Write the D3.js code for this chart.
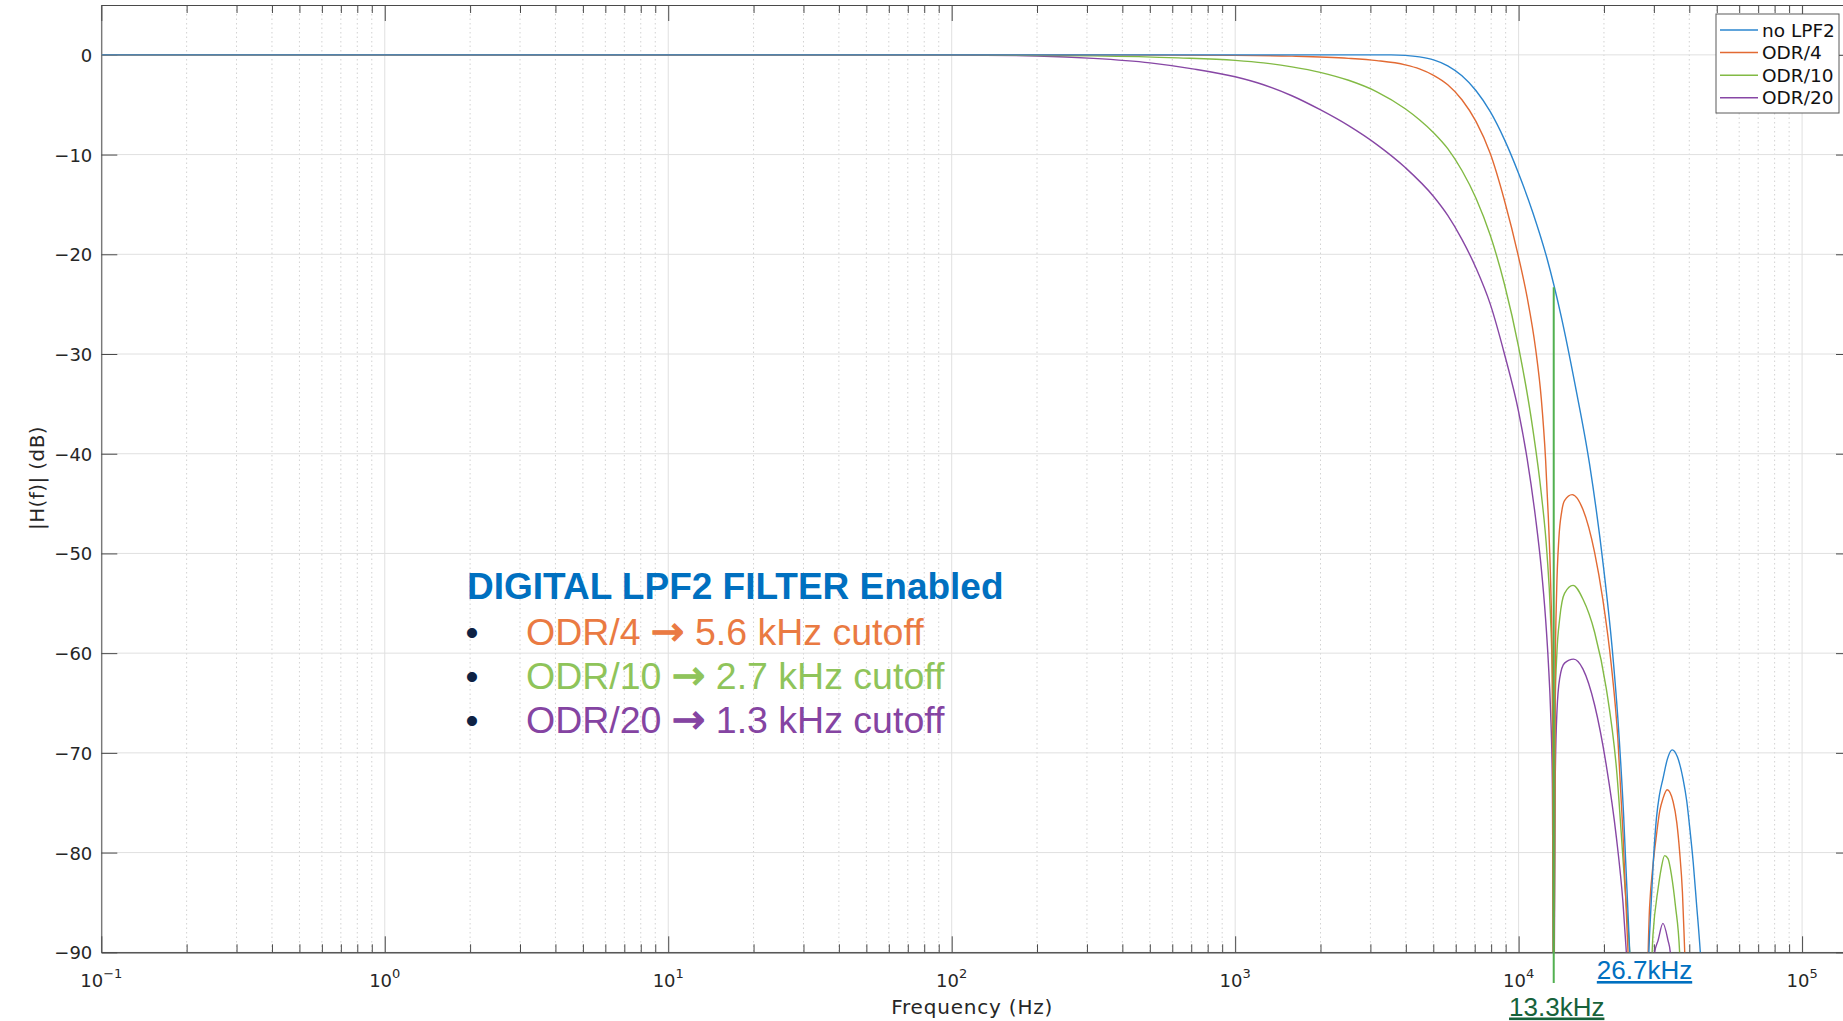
<!DOCTYPE html>
<html>
<head>
<meta charset="utf-8">
<script src="https://cdn.jsdelivr.net/npm/d3@7"></script>
<style>
  html, body { margin: 0; padding: 0; background: #fff; }
  #chart { width: 1843px; height: 1021px; overflow: hidden; }
</style>
</head>
<body>
<div id="chart"></div>
<script>
// values (frequency in Hz, magnitude in dB)
const seriesNames = ["no LPF2", "ODR/4", "ODR/10", "ODR/20"];
const seriesColors = ["#2B86CF", "#E26A33", "#82BA44", "#8747A5"];

const noLpfFreq = [0.1, 100, 1000, 3548, 3981, 4467, 5012, 5623, 6310, 7079,
  7943, 8913, 10000, 11220, 12589, 14125, 15849, 17783, 19953, 21380,
  22387, 23442, 24660, 25700, 27860, 28970, 29850, 30620, 31400, 32290,
  33500, 34830, 36310, 38020, 39170, 40180, 41300, 42360, 43750, 45710];
const noLpfDb = [0, 0, 0, 0, -0.05, -0.2, -0.5, -1.1, -2.1, -3.6,
  -5.7, -8.5, -11.9, -15.8, -20.4, -26.2, -33.2, -41.0, -51.5, -59.5,
  -66.5, -76, -90, -100, -100, -88.2, -81, -76.6, -74.2, -72.6,
  -70.6, -69.7, -70.4, -72.6, -74.8, -77.6, -81, -84.9, -90, -100];

const odr4Freq = [0.1, 316, 1000, 1585, 2512, 3162, 3981, 4467, 5012, 5623,
  6310, 7079, 7943, 8913, 10000, 10715, 11482, 12023, 12445, 12735,
  12972, 13152, 13305, 13459, 13614, 13868, 14191, 14521, 15453, 16866,
  18535, 19815, 21232, 22387, 23335, 24322, 25700, 27860, 28970, 29850,
  30620, 31480, 32290, 33420, 35080, 36140, 36980, 37840, 38550, 39810];
const odr4Db = [0, 0, -0.05, -0.13, -0.35, -0.58, -1.0, -1.4, -2.05, -3.0,
  -4.5, -6.7, -9.9, -14.6, -20.3, -24.3, -29.5, -34.5, -40.5, -46.5,
  -53, -62, -100, -62, -54, -48.5, -45.8, -44.7, -44.1, -45.6,
  -49.9, -54.6, -61.2, -68.5, -78, -90, -100, -100, -85.5, -81,
  -78.3, -75.8, -74.6, -73.7, -74.9, -77, -79.9, -84, -90, -100];

const odr10Freq = [0.1, 100, 316, 631, 1000, 1259, 1585, 1995, 2512, 3162,
  3981, 4467, 5012, 5623, 6310, 7079, 7943, 8913, 10000, 11220,
  12023, 12589, 12942, 13152, 13305, 13459, 13646, 13964, 14521, 15560,
  16870, 18540, 20370, 22130, 23660, 24660, 25700, 28510, 29790, 31050,
  31840, 32730, 33650, 34590, 35730, 36980, 38020];
const odr10Db = [0, 0, -0.1, -0.3, -0.55, -0.8, -1.2, -1.75, -2.55, -3.7,
  -5.4, -6.5, -7.8, -9.4, -11.6, -14.4, -18.1, -23.0, -29.3, -37.5,
  -44.0, -50.0, -56, -63, -100, -65, -60, -56.5, -54, -53.2,
  -54.6, -57.9, -63.5, -71.5, -83, -90, -100, -100, -88.2, -83.6,
  -81.6, -80.3, -80.6, -82.2, -85.3, -90, -100];

const odr20Freq = [0.1, 100, 200, 316, 501, 708, 1000, 1259, 1585, 1995,
  2512, 3162, 3981, 5012, 5623, 6310, 7079, 7943, 8913, 10000,
  10715, 11482, 12023, 12445, 12735, 12972, 13152, 13305, 13459, 13646,
  13964, 14521, 15630, 16870, 18540, 20370, 22130, 23340, 23990, 25120,
  29170, 30200, 31050, 32290, 33650, 34280, 35480];
const odr20Db = [0, -0.02, -0.12, -0.35, -0.8, -1.4, -2.2, -3.0, -4.1, -5.5,
  -7.1, -9.0, -11.3, -14.2, -16.1, -18.5, -21.4, -25.0, -30.0, -35.8,
  -40.5, -46.5, -51.5, -56.5, -61, -66, -73, -100, -73, -66,
  -62.5, -61, -60.6, -61.6, -65.2, -71.2, -78.5, -85, -90, -100,
  -100, -90, -88.8, -87.1, -88.8, -90, -100];

const xDomain = [0.1, 1.5e5];
const yDomain = [-90, 5];
const yTicks = [0, -10, -20, -30, -40, -50, -60, -70, -80, -90];
const xDecades = [-1, 0, 1, 2, 3, 4, 5];

const notchFreq = 13300;      // green marker line
const notchTopDb = -23.3;
const odrFreq = 26700;
const notchLabel = "13.3kHz";
const odrLabel = "26.7kHz";

const noteTitle = "DIGITAL LPF2 FILTER Enabled";
const noteLeft = ["ODR/4", "ODR/10", "ODR/20"];
const noteRight = ["5.6 kHz cutoff", "2.7 kHz cutoff", "1.3 kHz cutoff"];
const noteColors = ["#EA7A42", "#8FC45A", "#8544A2"];

const AXIS_FONT = "'DejaVu Sans', sans-serif";
const NOTE_FONT = "'Liberation Sans', Arial, sans-serif";

class BodeChart {
    constructor(id, series) {
        this.div = id;
        this.series = series;
    }

    add_svg() {
        const div = d3.select(`#${this.div}`);
        div.selectAll("*").remove();
        this.width = 1843;
        this.height = 1021;
        this.margin = { left: 101.3, right: -9, top: 5, bottom: 68.7 };
        this.innerW = this.width - this.margin.left - this.margin.right;
        this.innerH = this.height - this.margin.top - this.margin.bottom;
        this.svg = div.append("svg")
            .attr("width", this.width)
            .attr("height", this.height);
        this.svg.append("rect").attr("width", this.width).attr("height", this.height).attr("fill", "#fff");
        this.ChartArea = this.svg.append("g")
            .attr("transform", `translate(${this.margin.left},${this.margin.top})`);
        this.svg.append("defs").append("clipPath").attr("id", "plot-clip")
            .append("rect").attr("x", this.margin.left).attr("y", this.margin.top)
            .attr("width", this.innerW).attr("height", this.innerH);
    }

    add_scale() {
        this.x = d3.scaleLog().domain(xDomain).range([0, this.innerW]);
        this.y = d3.scaleLinear().domain(yDomain).range([this.innerH, 0]);
        this.majors = xDecades.map(e => Math.pow(10, e));
        this.minors = this.x.ticks().filter(v => !this.majors.some(m => Math.abs(v - m) / m < 1e-6));
    }

    add_grid() {
        const g = this.ChartArea.append("g").attr("class", "grid");
        g.selectAll(".vminor").data(this.minors).join("line").attr("class", "vminor")
            .attr("x1", d => this.x(d)).attr("x2", d => this.x(d))
            .attr("y1", 0).attr("y2", this.innerH)
            .attr("stroke", "#d2d2d2").attr("stroke-dasharray", "1.5,3");
        g.selectAll(".vmajor").data(this.majors).join("line").attr("class", "vmajor")
            .attr("x1", d => this.x(d)).attr("x2", d => this.x(d))
            .attr("y1", 0).attr("y2", this.innerH)
            .attr("stroke", "#e0e0e0");
        g.selectAll(".hmajor").data(yTicks).join("line").attr("class", "hmajor")
            .attr("x1", 0).attr("x2", this.innerW)
            .attr("y1", d => this.y(d)).attr("y2", d => this.y(d))
            .attr("stroke", "#e0e0e0");
    }

    draw_chart() {
        const line = d3.line()
            .x(d => this.x(d[0]) + this.margin.left)
            .y(d => this.y(d[1]) + this.margin.top)
            .curve(d3.curveMonotoneX);
        // drawn in reverse so the blue trace sits on top of the shared 0 dB run
        this.svg.append("g").attr("clip-path", "url(#plot-clip)")
            .selectAll("path").data(this.series.slice().reverse()).join("path")
            .attr("fill", "none")
            .attr("stroke", d => d.color)
            .attr("stroke-width", 1.4)
            .attr("stroke-linejoin", "round")
            .attr("d", d => line(d.points));
    }

    style_axis(g) {
        g.selectAll(".domain").attr("stroke", "#4a4a4a");
        g.selectAll(".tick line").attr("stroke", "#4a4a4a");
        g.selectAll("text").attr("font-family", AXIS_FONT).attr("font-size", 18).attr("fill", "#262626");
    }

    add_axis() {
        const A = this.ChartArea;
        const left = A.append("g")
            .call(d3.axisLeft(this.y).tickValues(yTicks).tickSizeInner(-16).tickSizeOuter(0).tickPadding(9));
        const right = A.append("g").attr("transform", `translate(${this.innerW},0)`)
            .call(d3.axisRight(this.y).tickValues(yTicks).tickSizeInner(-16).tickSizeOuter(0).tickFormat(""));
        const bottomMinor = A.append("g").attr("transform", `translate(0,${this.innerH})`)
            .call(d3.axisBottom(this.x).tickValues(this.minors).tickSizeInner(-8).tickSizeOuter(0).tickFormat(""));
        const bottom = A.append("g").attr("transform", `translate(0,${this.innerH})`)
            .call(d3.axisBottom(this.x).tickValues(this.majors).tickSizeInner(-16).tickSizeOuter(0).tickFormat(""));
        const topMinor = A.append("g")
            .call(d3.axisTop(this.x).tickValues(this.minors).tickSizeInner(-8).tickSizeOuter(0).tickFormat(""));
        const top = A.append("g")
            .call(d3.axisTop(this.x).tickValues(this.majors).tickSizeInner(-16).tickSizeOuter(0).tickFormat(""));
        [left, right, bottomMinor, bottom, topMinor, top].forEach(g => this.style_axis(g));
        left.selectAll("text").attr("dy", "0.36em");

        // 10^n labels
        const labels = A.append("g").attr("font-family", AXIS_FONT).attr("fill", "#262626");
        xDecades.forEach(e => {
            const t = labels.append("text")
                .attr("x", this.x(Math.pow(10, e)))
                .attr("y", this.innerH + 34.2)
                .attr("text-anchor", "middle")
                .attr("font-size", 18);
            t.append("tspan").text("10");
            t.append("tspan").attr("dy", -9).attr("font-size", 13)
                .text(e < 0 ? "\u2212" + Math.abs(e) : String(e));
        });
    }

    add_label() {
        this.svg.append("text")
            .attr("transform", `translate(${this.margin.left + this.innerW / 2 - 4.5},1014)`)
            .attr("text-anchor", "middle")
            .attr("font-family", AXIS_FONT).attr("font-size", 20)
            .attr("letter-spacing", 0.8)
            .attr("fill", "#262626")
            .text("Frequency (Hz)");
        this.svg.append("text")
            .attr("transform", "translate(44,478) rotate(-90)")
            .attr("text-anchor", "middle")
            .attr("font-family", AXIS_FONT).attr("font-size", 20)
            .attr("letter-spacing", 0.4)
            .attr("fill", "#262626")
            .text("|H(f)| (dB)");
    }

    add_legend() {
        const lg = this.svg.append("g").attr("class", "legend").attr("transform", "translate(1716,14)");
        lg.append("rect").attr("width", 123).attr("height", 99)
            .attr("fill", "#fff").attr("stroke", "#5a5a5a").attr("stroke-width", 1);
        const rows = lg.selectAll(".item").data(this.series).join("g").attr("class", "item")
            .attr("transform", (d, i) => `translate(0,${16 + i * 22.6})`);
        rows.append("line").attr("x1", 4).attr("x2", 42).attr("stroke", d => d.color).attr("stroke-width", 1.5);
        rows.append("text").attr("x", 46).attr("dy", "0.36em")
            .attr("font-family", AXIS_FONT).attr("font-size", 18.5).attr("fill", "#111")
            .text(d => d.name);
    }

    add_notes() {
        const S = this.svg;
        S.append("text").attr("x", 467).attr("y", 599)
            .attr("font-family", NOTE_FONT).attr("font-weight", "bold").attr("font-size", 37)
            .attr("fill", "#0070C0").text(noteTitle);
        noteLeft.forEach((s, i) => {
            const yb = 645 + i * 44;
            S.append("text").attr("x", 472).attr("y", yb).attr("text-anchor", "middle")
                .attr("font-family", NOTE_FONT).attr("font-size", 37).attr("fill", "#0E2244").text("\u2022");
            const t = S.append("text").attr("x", 526).attr("y", yb)
                .attr("font-family", NOTE_FONT).attr("font-size", 37.5).attr("fill", noteColors[i])
                .attr("xml:space", "preserve");
            t.append("tspan").text(s + " ");
            t.append("tspan").attr("font-family", AXIS_FONT)
                .attr("font-size", 40).attr("stroke", noteColors[i]).attr("stroke-width", 1.2)
                .text("\u2192");
            t.append("tspan").text(" " + noteRight[i]);
        });

        // marker at the LPF2 notch
        const xn = this.margin.left + this.x(notchFreq);
        S.append("line").attr("x1", xn).attr("x2", xn)
            .attr("y1", this.margin.top + this.y(notchTopDb)).attr("y2", 983)
            .attr("stroke", "#52B050").attr("stroke-width", 2);
        S.append("text").attr("x", this.margin.left + this.x(odrFreq) + 5).attr("y", 979)
            .attr("text-anchor", "middle").attr("text-decoration", "underline")
            .attr("font-family", NOTE_FONT).attr("font-size", 26).attr("fill", "#0070C0").text(odrLabel);
        S.append("text").attr("x", xn + 3).attr("y", 1015.5)
            .attr("text-anchor", "middle").attr("text-decoration", "underline")
            .attr("font-family", NOTE_FONT).attr("font-size", 26).attr("fill", "#17623A").text(notchLabel);
    }

    render() {
        this.add_svg();
        this.add_scale();
        this.add_grid();
        this.draw_chart();
        this.add_axis();
        this.add_label();
        this.add_legend();
        this.add_notes();
    }
}

const freqs = [noLpfFreq, odr4Freq, odr10Freq, odr20Freq];
const dbs = [noLpfDb, odr4Db, odr10Db, odr20Db];
const series = seriesNames.map((name, i) => ({
    name: name,
    color: seriesColors[i],
    points: d3.zip(freqs[i], dbs[i])
}));

new BodeChart("chart", series).render();
</script>
</body>
</html>
